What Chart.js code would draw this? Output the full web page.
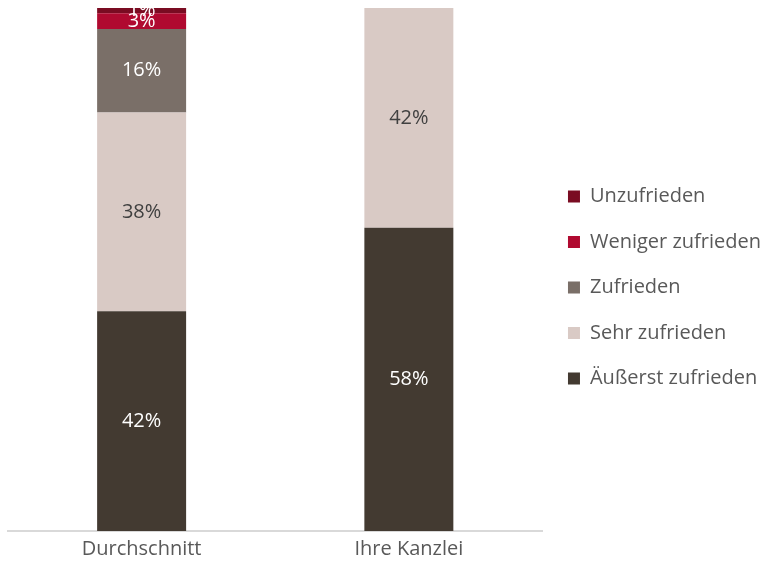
<!DOCTYPE html>
<html lang="de">
<head>
<meta charset="UTF-8">
<title>Zufriedenheit</title>
<script src="https://cdn.jsdelivr.net/npm/chart.js"></script>
<style>
  html, body { margin: 0; padding: 0; background: #fff; }
  #wrap { width: 778px; height: 569px; }
</style>
</head>
<body>
<div id="wrap"><canvas id="zufriedenheit" width="778" height="569"></canvas></div>
<script>
    const kategorien = ['Durchschnitt', 'Ihre Kanzlei'];

    // Anteile in Prozent, von unten nach oben gestapelt
    const aeusserstZufrieden = [42, 58];
    const sehrZufrieden = [38, 42];
    const zufrieden = [16, 0];
    const wenigerZufrieden = [3, 0];
    const unzufrieden = [1, 0];

    const schrift = "'Open Sans', sans-serif";

    // Prozentwerte mittig in die Segmente schreiben
    const wertBeschriftung = {
        id: 'wertBeschriftung',
        afterDatasetsDraw(chart) {
            const ctx = chart.ctx;
            ctx.save();
            ctx.font = '20px ' + schrift;
            ctx.textAlign = 'center';
            ctx.textBaseline = 'middle';
            chart.data.datasets.forEach((ds, i) => {
                const meta = chart.getDatasetMeta(i);
                meta.data.forEach((bar, j) => {
                    const wert = ds.data[j];
                    if (!wert) return;
                    ctx.fillStyle = ds.labelColor;
                    ctx.fillText(wert + '%', bar.x, (bar.y + bar.base) / 2);
                });
            });
            ctx.restore();
        }
    };

    const ctx = document.getElementById('zufriedenheit').getContext('2d');

    const chart = new Chart(ctx, {
        type: 'bar',
        data: {
            labels: kategorien,
            datasets: [
                { label: 'Äußerst zufrieden', data: aeusserstZufrieden, backgroundColor: '#433a31', labelColor: '#ffffff' },
                { label: 'Sehr zufrieden', data: sehrZufrieden, backgroundColor: '#d9cac5', labelColor: '#404040' },
                { label: 'Zufrieden', data: zufrieden, backgroundColor: '#7a6f68', labelColor: '#ffffff' },
                { label: 'Weniger zufrieden', data: wenigerZufrieden, backgroundColor: '#b00a30', labelColor: '#ffffff' },
                { label: 'Unzufrieden', data: unzufrieden, backgroundColor: '#7a0c22', labelColor: '#ffffff' }
            ]
        },
        options: {
            responsive: false,
            animation: false,
            layout: {
                padding: { left: 8, top: 8, right: 7, bottom: 2 }
            },
            datasets: {
                bar: { categoryPercentage: 1, barPercentage: 0.333 }
            },
            scales: {
                x: {
                    stacked: true,
                    grid: { display: false, drawTicks: false },
                    border: { display: true, color: '#d9d9d9', width: 2 },
                    ticks: { padding: 6, color: '#595959', font: { family: schrift, size: 20 } }
                },
                y: {
                    stacked: true,
                    min: 0,
                    max: 100,
                    display: false
                }
            },
            plugins: {
                legend: {
                    position: 'right',
                    reverse: true,
                    align: 'center',
                    maxWidth: 260,
                    labels: {
                        boxWidth: 12,
                        boxHeight: 12,
                        padding: 25.5,
                        color: '#595959',
                        font: { family: schrift, size: 20 }
                    }
                },
                tooltip: { enabled: false }
            }
        },
        plugins: [wertBeschriftung]
    });
</script>
</body>
</html>
